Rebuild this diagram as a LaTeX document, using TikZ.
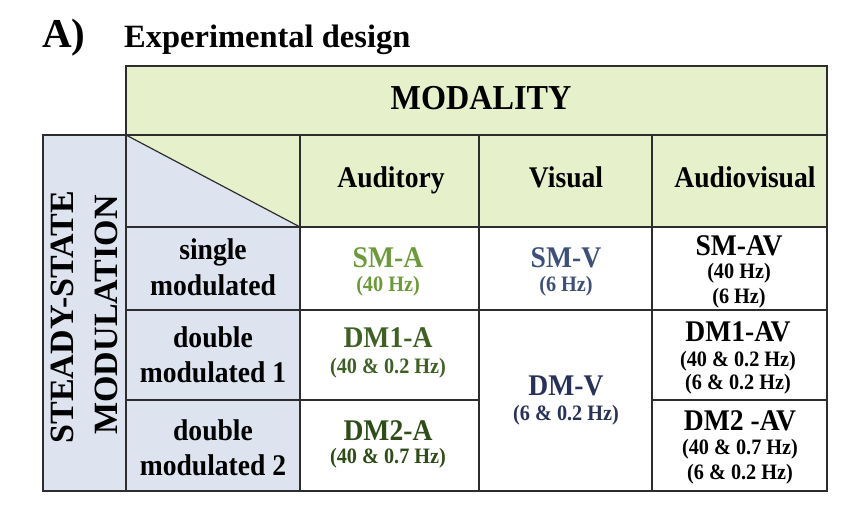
\documentclass[tikz,border=0pt]{standalone}
\usepackage{fontspec}
\setmainfont{Liberation Serif}
\newfontfamily\tabfont[FakeStretch=0.92]{Liberation Serif}
\definecolor{modfill}{RGB}{230,240,202}
\definecolor{ssfill}{RGB}{221,227,239}
\definecolor{agreen}{RGB}{108,154,58}
\definecolor{dgreen}{RGB}{62,96,36}
\definecolor{ddgreen}{RGB}{45,76,24}
\definecolor{vblue}{RGB}{62,80,122}
\definecolor{dblue}{RGB}{40,50,88}
\definecolor{gridline}{RGB}{45,45,45}
\begin{document}
\begin{tikzpicture}[x=1pt,y=-1pt,inner sep=0pt,
  big/.style={anchor=base,font=\tabfont\fontsize{30}{34}\selectfont\bfseries},
  small/.style={anchor=base,font=\tabfont\fontsize{22}{25}\selectfont\bfseries},
  side/.style={rotate=90,anchor=base,font=\fontsize{34}{34}\selectfont\bfseries},
  grid line/.style={draw=gridline,line width=1.5pt}]
\useasboundingbox (0,0) rectangle (856,513);

% fills
\fill[modfill] (126,66) rectangle (827,227);
\fill[ssfill] (43,135) rectangle (300,491);
\fill[modfill] (126,135) -- (300,135) -- (300,227) -- cycle;

% grid
\draw[grid line] (126,66) rectangle (827,491);
\draw[grid line] (43,135) rectangle (126,491);
\draw[grid line] (126,135) -- (827,135) (126,227) -- (827,227) (126,310) -- (827,310);
\draw[grid line] (126,400) -- (479,400) (652,400) -- (827,400);
\foreach \x in {300,479,652} \draw[grid line] (\x,135) -- (\x,491);
\draw[grid line,line width=1.2pt] (126,135) -- (300,227);

% title
\node[anchor=base west,font=\fontsize{41}{41}\selectfont\bfseries] (lbl) at (42,48) {A)};
\node[anchor=base west,font=\fontsize{32.5}{32}\selectfont\bfseries] (ttl) at (124,48) {Experimental design};
\node[anchor=base,font=\tabfont\fontsize{35}{35}\selectfont\bfseries] (mod) at (481,110) {MODALITY};
\node[side] (ss) at (73,317) {STEADY-STATE};
\node[side] (ssm) at (117,315) {MODULATION};

% header row
\node[big] (aud) at (391,188) {Auditory};
\node[big] (vis) at (566,188) {Visual};
\node[big] (av) at (745,188) {Audiovisual};

% row labels
\node[big] (r1a) at (213,259) {single};
\node[big] (r1b) at (213,295) {modulated};
\node[big] (r2a) at (213,347) {double};
\node[big] (r2b) at (213,382) {modulated 1};
\node[big] (r3a) at (213,440) {double};
\node[big] (r3b) at (213,475) {modulated 2};

% single modulated
\node[big,text=agreen] (sma) at (388,267) {SM-A};
\node[small,text=agreen] (smahz) at (388,291) {(40 Hz)};
\node[big,text=vblue] (smv) at (566,267) {SM-V};
\node[small,text=vblue] (smvhz) at (566,291) {(6 Hz)};
\node[big] (smav) at (739,255) {SM-AV};
\node[small] (smavhz1) at (739,278) {(40 Hz)};
\node[small] (smavhz2) at (739,303) {(6 Hz)};

% double modulated 1
\node[big,text=dgreen] (dmia) at (388,347) {DM1-A};
\node[small,text=dgreen] (dmiahz) at (388,373) {(40 \& 0.2 Hz)};
\node[big,text=dblue] (dmv) at (566,395) {DM-V};
\node[small,text=dblue] (dmvhz) at (566,420) {(6 \& 0.2 Hz)};
\node[big] (dmiav) at (738,341) {DM1-AV};
\node[small] (dmiavhz1) at (738,366) {(40 \& 0.2 Hz)};
\node[small] (dmiavhz2) at (738,389) {(6 \& 0.2 Hz)};

% double modulated 2
\node[big,text=ddgreen] (dmiia) at (388,440) {DM2-A};
\node[small,text=ddgreen] (dmiiahz) at (388,463) {(40 \& 0.7 Hz)};
\node[big] (dmiiav) at (740,430) {DM2 -AV};
\node[small] (dmiiavhz1) at (740,454) {(40 \& 0.7 Hz)};
\node[small] (dmiiavhz2) at (740,479) {(6 \& 0.2 Hz)};
\end{tikzpicture}
\end{document}
